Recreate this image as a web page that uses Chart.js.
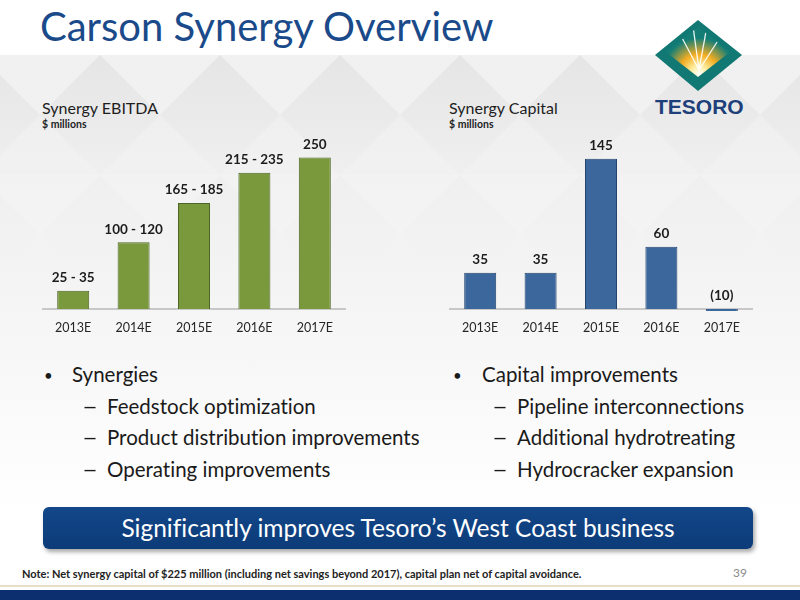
<!DOCTYPE html>
<html>
<head>
<meta charset="utf-8">
<script src="https://cdn.jsdelivr.net/npm/chart.js@4.4.1/dist/chart.umd.min.js"></script>
<style>
  body { margin: 0; width: 800px; height: 600px; position: relative; overflow: hidden; background: #fff;
         font-family: Lato, 'Noto Sans', sans-serif; font-variant-ligatures: none; }
  .abs { position: absolute; white-space: nowrap; line-height: 1; }
  #bg { position: absolute; left: 0; top: 55px; width: 800px; height: 460px;
        background: linear-gradient(#e5e5e5 0%, #efefef 25%, #f5f5f5 55%, #ffffff 100%); }
  #pattern { position: absolute; left: 0; top: 55px; }
  #title { left: 40px; top: 6px; font-size: 40px; color: #1a4a8a; }
  .ctitle { top: 100px; font-size: 16px; color: #1e1e1e; }
  .cunit { top: 119px; font-size: 10.5px; font-weight: bold; color: #1e1e1e; }
  canvas { position: absolute; }
  .bl { font-size: 20.5px; color: #1a1a1a; }
  .dot { font-size: 15px; color: #1a1a1a; }
  .dash { font-size: 20.5px; color: #1a1a1a; transform: scaleX(1.35); transform-origin: left; }
  #banner { position: absolute; left: 43px; top: 507px; width: 710px; height: 42px; border-radius: 6px;
            background: linear-gradient(#134789, #0c3b78); box-shadow: 2px 3px 4px rgba(0,0,0,0.35);
            color: #fff; font-size: 24.5px; text-align: center; line-height: 42px; }
  #note { left: 22px; top: 568px; font-size: 11px; font-weight: bold; color: #222; }
  #page { left: 733px; top: 567px; font-size: 12px; color: #8a8a8a; }
  #tan { position: absolute; left: 0; top: 585px; width: 800px; height: 2px; background: #e9dfc6; }
  #band { position: absolute; left: 0; top: 590px; width: 800px; height: 10px; background: #0c2f6f; }
  #tesoro { left: 655px; top: 96px; font-family: 'Liberation Sans', Arial, sans-serif; font-weight: bold; font-size: 21px; color: #1d3f7a; }
</style>
</head>
<body>
<div id="bg"></div>
<svg id="pattern" width="800" height="260">
  <defs>
    <pattern id="dia" width="120" height="120" patternUnits="userSpaceOnUse" x="-20">
      <polygon points="0,0 120,0 60,60" fill="#ffffff" opacity="0.45"/>
      <polygon points="60,60 120,120 0,120" fill="#ffffff" opacity="0.3"/>
    </pattern>
    <linearGradient id="fade" x1="0" y1="0" x2="0" y2="1">
      <stop offset="0" stop-color="#fff" stop-opacity="1"/>
      <stop offset="1" stop-color="#fff" stop-opacity="0"/>
    </linearGradient>
    <mask id="m"><rect width="800" height="260" fill="url(#fade)"/></mask>
  </defs>
  <rect width="800" height="260" fill="url(#dia)" mask="url(#m)"/>
</svg>
<div class="abs" id="title">Carson Synergy Overview</div>

<svg style="position:absolute;left:650px;top:15px" width="100" height="80" viewBox="650 15 100 80">
  <defs>
    <radialGradient id="glow" cx="699" cy="74" r="36" gradientUnits="userSpaceOnUse">
      <stop offset="0" stop-color="#ffffff"/>
      <stop offset="0.25" stop-color="#fdeb9a"/>
      <stop offset="0.55" stop-color="#f3ad22"/>
      <stop offset="1" stop-color="#147e76"/>
    </radialGradient>
    <clipPath id="inner"><polygon points="698,27 730,52 698,77 666,52"/></clipPath>
  </defs>
  <polygon points="698,20 742,55 698,91 655,55" fill="#117873"/>
  <polygon points="698,27 730,52 698,77 666,52" fill="url(#glow)"/>
  <g clip-path="url(#inner)" stroke="#ffffff" stroke-width="1.3" opacity="0.9">
    <line x1="699" y1="70" x2="680" y2="34"/>
    <line x1="699" y1="70" x2="693" y2="26"/>
    <line x1="699" y1="70" x2="707" y2="26"/>
    <line x1="699" y1="70" x2="721" y2="36"/>
  </g>
</svg>
<div class="abs" id="tesoro">TESORO</div>

<div class="abs ctitle" style="left:42px">Synergy EBITDA</div>
<div class="abs cunit" style="left:42px">$ millions</div>
<div class="abs ctitle" style="left:449px">Synergy Capital</div>
<div class="abs cunit" style="left:449px">$ millions</div>

<canvas id="ebitda" width="310" height="226" style="left:40px;top:120px"></canvas>
<canvas id="capital" width="310" height="226" style="left:447px;top:120px"></canvas>

<div class="abs dot" style="left:44px;top:368px">•</div>
<div class="abs bl" style="left:72px;top:364px">Synergies</div>
<div class="abs dash" style="left:82px;top:396px">–</div>
<div class="abs bl" style="left:107px;top:396px">Feedstock optimization</div>
<div class="abs dash" style="left:82px;top:427px">–</div>
<div class="abs bl" style="left:107px;top:427px">Product distribution improvements</div>
<div class="abs dash" style="left:82px;top:459px">–</div>
<div class="abs bl" style="left:107px;top:459px">Operating improvements</div>

<div class="abs dot" style="left:453px;top:368px">•</div>
<div class="abs bl" style="left:482px;top:364px">Capital improvements</div>
<div class="abs dash" style="left:492px;top:396px">–</div>
<div class="abs bl" style="left:517px;top:396px">Pipeline interconnections</div>
<div class="abs dash" style="left:492px;top:427px">–</div>
<div class="abs bl" style="left:517px;top:427px">Additional hydrotreating</div>
<div class="abs dash" style="left:492px;top:459px">–</div>
<div class="abs bl" style="left:517px;top:459px">Hydrocracker expansion</div>

<div id="banner">Significantly improves Tesoro’s West Coast business</div>
<div class="abs" id="note">Note: Net synergy capital of $225 million (including net savings beyond 2017), capital plan net of capital avoidance.</div>
<div class="abs" id="page">39</div>
<div id="tan"></div>
<div id="band"></div>

<script>
  // Chart data
  const years = ['2013E', '2014E', '2015E', '2016E', '2017E'];
  // EBITDA bars use the midpoint of each range
  const ebitdaValues = [30, 110, 175, 225, 250];
  const ebitdaLabels = ['25 - 35', '100 - 120', '165 - 185', '215 - 235', '250'];
  const capitalValues = [35, 35, 145, 60, -10];
  const capitalLabels = ['35', '35', '145', '60', '(10)'];

  // Draws the value text above each bar
  const barText = {
    id: 'barText',
    afterDatasetsDraw(chart, args, opts) {
      const ctx = chart.ctx;
      const meta = chart.getDatasetMeta(0);
      ctx.save();
      ctx.font = 'bold 13.5px Lato, sans-serif';
      ctx.fillStyle = '#1c1c1c';
      ctx.textAlign = 'center';
      ctx.textBaseline = 'middle';
      meta.data.forEach((bar, i) => {
        const top = Math.min(bar.y, bar.base);
        ctx.fillText(opts.labels[i], bar.x, top - 13);
      });
      ctx.restore();
    }
  };

  function makeChart(id, values, labels, yMax, fill, border) {
    return new Chart(document.getElementById(id), {
      type: 'bar',
      data: {
        labels: years,
        datasets: [{
          data: values,
          backgroundColor: fill,
          borderColor: border,
          borderWidth: 1,
          categoryPercentage: 1,
          barPercentage: 0.53,
          // let the negative 2017E capital bar show as a thin sliver under the axis
          clip: { left: 0, top: 0, right: 0, bottom: 2 }
        }]
      },
      options: {
        responsive: false,
        animation: false,
        layout: { padding: { top: 20, left: 3, right: 5, bottom: 0 } },
        scales: {
          x: {
            grid: { display: false, drawTicks: false },
            border: { color: '#c8c8c8', width: 2 },
            ticks: { color: '#262626', font: { family: 'Lato', size: 12.5 }, padding: 11 }
          },
          y: { display: false, min: 0, max: yMax }
        },
        plugins: {
          legend: { display: false },
          tooltip: { enabled: false },
          barText: { labels: labels }
        }
      },
      plugins: [barText]
    });
  }

  makeChart('ebitda', ebitdaValues, ebitdaLabels, 279, '#7a993d', '#4d6526');
  makeChart('capital', capitalValues, capitalLabels, 163, '#3c679c', '#23446e');
</script>
</body>
</html>
